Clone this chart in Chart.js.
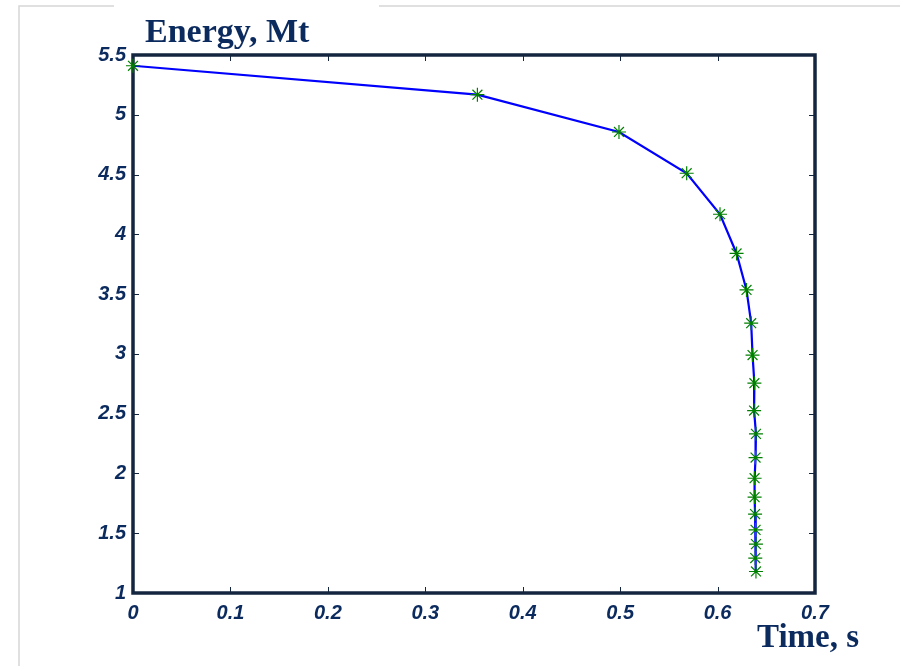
<!DOCTYPE html>
<html>
<head>
<meta charset="utf-8">
<script src="https://cdn.jsdelivr.net/npm/chart.js@4/dist/chart.umd.min.js"></script>
<style>
  html, body { margin: 0; padding: 0; background: #fff; }
  #wrap { position: relative; width: 900px; height: 666px; }
</style>
</head>
<body>
<div id="wrap"><canvas id="chart" width="900" height="666"></canvas></div>
<script>
const times = [0, 0.3535, 0.4988, 0.5683, 0.6025, 0.6195, 0.6297, 0.6345, 0.6359, 0.6378,
  0.6375, 0.6394, 0.639, 0.638, 0.638, 0.6385, 0.639, 0.6394, 0.6387, 0.6394];
const energies = [5.41, 5.168, 4.856, 4.511, 4.168, 3.84, 3.535, 3.257, 2.99, 2.755,
  2.526, 2.331, 2.133, 1.96, 1.802, 1.66, 1.528, 1.409, 1.292, 1.18];
const xTicks = [0, 0.1, 0.2, 0.3, 0.4, 0.5, 0.6, 0.7];
const yTicks = [1, 1.5, 2, 2.5, 3, 3.5, 4, 4.5, 5, 5.5];
const yTitle = "Energy, Mt";
const xTitle = "Time, s";

const navy = "#0b2a5e";
const axisColor = "#14253f";

// frame, inward ticks, slide border and axis titles
const decor = {
  id: "decor",
  beforeDatasetsDraw(chart) {
    const { ctx, chartArea: a, scales } = chart;
    ctx.save();
    // slide border
    ctx.strokeStyle = "#d6d6d6";
    ctx.lineWidth = 1.5;
    ctx.beginPath();
    ctx.moveTo(19, 666); ctx.lineTo(19, 6); ctx.lineTo(114, 6);
    ctx.moveTo(379, 6); ctx.lineTo(900, 6);
    ctx.stroke();
    // ticks
    ctx.strokeStyle = axisColor;
    ctx.lineWidth = 1;
    ctx.beginPath();
    xTicks.forEach(v => {
      const x = Math.round(scales.x.getPixelForValue(v)) + 0.5;
      ctx.moveTo(x, a.bottom); ctx.lineTo(x, a.bottom - 6);
      ctx.moveTo(x, a.top); ctx.lineTo(x, a.top + 6);
    });
    yTicks.forEach(v => {
      const y = Math.round(scales.y.getPixelForValue(v)) + 0.5;
      ctx.moveTo(a.left, y); ctx.lineTo(a.left + 6, y);
      ctx.moveTo(a.right, y); ctx.lineTo(a.right - 6, y);
    });
    ctx.stroke();
    // frame
    ctx.lineWidth = 3.5;
    ctx.strokeRect(a.left, a.top, a.right - a.left, a.bottom - a.top);
    // titles
    ctx.fillStyle = navy;
    ctx.font = "bold 34px 'Liberation Serif', 'Times New Roman', serif";
    ctx.textBaseline = "alphabetic";
    ctx.textAlign = "left";
    ctx.fillText(yTitle, 145, 42);
    ctx.font = "bold 33px 'Liberation Serif', 'Times New Roman', serif";
    ctx.fillText(xTitle, 757, 647);
    ctx.restore();
  }
};

const tickFont = { family: "'Liberation Sans', Arial, sans-serif", size: 20, weight: "bold", style: "italic" };

new Chart(document.getElementById("chart"), {
  type: "scatter",
  data: {
    datasets: [{
      data: times.map((t, i) => ({ x: t, y: energies[i] })),
      showLine: true,
      borderColor: "#0000ff",
      borderWidth: 2.2,
      tension: 0,
      pointStyle: "star",
      pointRadius: 7,
      pointBorderColor: "#008000",
      pointBackgroundColor: "#008000",
      pointBorderWidth: 1.2,
      clip: false
    }]
  },
  options: {
    responsive: false,
    animation: false,
    layout: { padding: { left: 0, right: 85, top: 55, bottom: 0 } },
    plugins: { legend: { display: false }, tooltip: { enabled: false } },
    scales: {
      x: {
        type: "linear",
        min: 0, max: 0.7,
        afterBuildTicks: s => { s.ticks = xTicks.map(v => ({ value: v })); },
        afterFit: s => { s.height = 73; },
        grid: { display: false, drawTicks: false },
        border: { display: false },
        ticks: { font: tickFont, color: navy, padding: 8, maxRotation: 0, callback: v => String(v) }
      },
      y: {
        type: "linear",
        min: 1, max: 5.5,
        afterBuildTicks: s => { s.ticks = yTicks.map(v => ({ value: v })); },
        afterFit: s => { s.width = 133; },
        grid: { display: false, drawTicks: false },
        border: { display: false },
        ticks: { font: tickFont, color: navy, padding: 7, callback: v => String(v) }
      }
    }
  },
  plugins: [decor]
});
</script>
</body>
</html>
